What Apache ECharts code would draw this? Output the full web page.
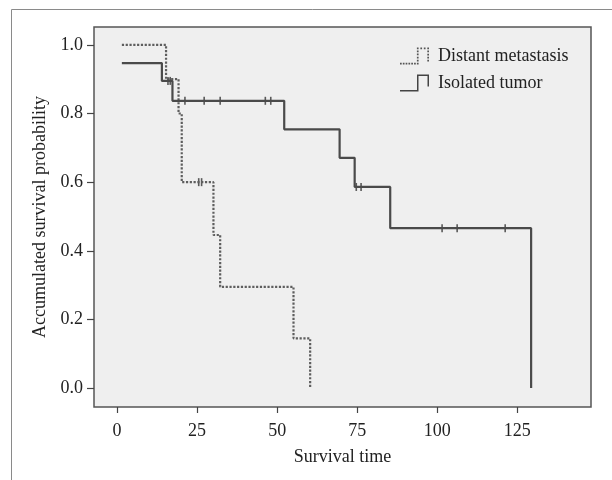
<!DOCTYPE html>
<html>
<head>
<meta charset="utf-8">
<script src="https://cdn.jsdelivr.net/npm/echarts@6/dist/echarts.min.js"></script>
<style>
  html, body { margin: 0; padding: 0; background: #fff; }
  #chart { width: 612px; height: 480px; }
</style>
</head>
<body>
<div id="chart"></div>
<script>
// Kaplan-Meier steps (time of event, survival after it)
var distantTime = [1.5, 15.3, 19.2, 20.2, 30.1, 32.2, 55.1, 60.3];
var distantSurv = [1.0, 0.9, 0.8, 0.6, 0.446, 0.295, 0.145, 0];
var distantCensorTime = [25.5, 26.4];
var distantCensorSurv = [0.6, 0.6];

var isolatedTime = [1.5, 14.0, 17.3, 52.2, 69.5, 74.2, 85.3, 129.3];
var isolatedSurv = [0.947, 0.895, 0.837, 0.754, 0.671, 0.586, 0.466, 0];
var isolatedCensorTime = [15.9, 16.6, 21.2, 27.2, 32.2, 46.3, 48.0, 74.7, 76.2, 101.5, 106.2, 121.2];
var isolatedCensorSurv = [0.895, 0.895, 0.837, 0.837, 0.837, 0.837, 0.837, 0.586, 0.586, 0.466, 0.466, 0.466];

var xTicks = [0, 25, 50, 75, 100, 125];
var yTicks = [0, 0.2, 0.4, 0.6, 0.8, 1.0];

var serif = "'Liberation Serif', 'DejaVu Serif', serif";

function zip(a, b) {
    return a.map(function (v, i) { return [v, b[i]]; });
}

// dotted step icon for the legend, built from small squares
function dottedIcon(pts) {
    var d = '', h = 0.85, step = 3.0;
    for (var i = 0; i < pts.length - 1; i++) {
        var x0 = pts[i][0], y0 = pts[i][1], x1 = pts[i + 1][0], y1 = pts[i + 1][1];
        var len = Math.hypot(x1 - x0, y1 - y0);
        var n = Math.max(1, Math.round(len / step));
        for (var k = 0; k < n; k++) {
            var x = x0 + (x1 - x0) * k / n, y = y0 + (y1 - y0) * k / n;
            d += 'M' + (x - h) + ',' + (y - h) + 'h' + 2 * h + 'v' + 2 * h + 'h' + (-2 * h) + 'z';
        }
    }
    return 'path://' + d;
}
var dotIcon = dottedIcon([[0.85, 16.15], [17.75, 16.15], [17.75, 0.85], [28.15, 0.85], [28.15, 16.3]]);
var solidIcon = 'path://M0,15.5H17V0H29V12H27.5V1.5H18.5V17H0Z';

var chart = echarts.init(document.getElementById('chart'));
chart.setOption({
    backgroundColor: '#fff',
    animation: false,
    graphic: [{
        type: 'rect',
        shape: { x: 11.5, y: 9.5, width: 700, height: 600 },
        style: { fill: 'none', stroke: '#8a8a8a', lineWidth: 1 },
        z: -10
    }],
    grid: {
        left: 94, top: 27, right: 21, bottom: 73,
        show: true,
        backgroundColor: '#efefef',
        borderColor: '#555',
        borderWidth: 1.5
    },
    legend: {
        orient: 'vertical',
        left: 395,
        top: 42,
        itemWidth: 29,
        itemHeight: 17,
        itemGap: 9,
        textStyle: { fontFamily: serif, fontSize: 18, color: '#222', padding: [0, 0, 0, 4] },
        data: [
            { name: 'Distant metastasis', icon: dotIcon, itemStyle: { color: '#555' } },
            { name: 'Isolated tumor', icon: solidIcon, itemStyle: { color: '#444' } }
        ]
    },
    xAxis: {
        type: 'value',
        min: -7.2,
        max: 148,
        name: 'Survival time',
        nameLocation: 'middle',
        nameGap: 41,
        nameTextStyle: { fontFamily: serif, fontSize: 18, color: '#222' },
        splitLine: { show: false },
        axisLine: { show: false, onZero: false },
        axisTick: { show: true, length: 6, customValues: xTicks, lineStyle: { color: '#444', width: 1.2 } },
        axisLabel: { customValues: xTicks, margin: 15, fontFamily: serif, fontSize: 18, color: '#222' }
    },
    yAxis: {
        type: 'value',
        min: -0.055,
        max: 1.052,
        name: 'Accumulated survival probability',
        nameLocation: 'middle',
        nameGap: 39,
        nameTextStyle: { fontFamily: serif, fontSize: 18, color: '#222' },
        splitLine: { show: false },
        axisLine: { show: false, onZero: false },
        axisTick: { show: true, length: 7, customValues: yTicks, lineStyle: { color: '#444', width: 1.2 } },
        axisLabel: {
            customValues: yTicks, margin: 11, fontFamily: serif, fontSize: 18, color: '#222',
            formatter: function (v) { return v.toFixed(1); }
        }
    },
    series: [{
        name: 'Distant metastasis',
        type: 'line',
        step: 'end',
        showSymbol: false,
        color: '#555',
        lineStyle: { color: '#5e5e5e', width: 2.2, type: [2.2, 1.6] },
        data: zip(distantTime, distantSurv)
    }, {
        name: 'Isolated tumor',
        type: 'line',
        step: 'end',
        showSymbol: false,
        color: '#444',
        lineStyle: { color: '#4a4a4a', width: 2.2 },
        data: zip(isolatedTime, isolatedSurv)
    }, {
        name: 'Distant metastasis censored',
        type: 'scatter',
        symbol: 'rect',
        symbolSize: [1.6, 8],
        itemStyle: { color: '#333' },
        data: zip(distantCensorTime, distantCensorSurv)
    }, {
        name: 'Isolated tumor censored',
        type: 'scatter',
        symbol: 'rect',
        symbolSize: [1.6, 8],
        itemStyle: { color: '#333' },
        data: zip(isolatedCensorTime, isolatedCensorSurv)
    }]
});
</script>
</body>
</html>
